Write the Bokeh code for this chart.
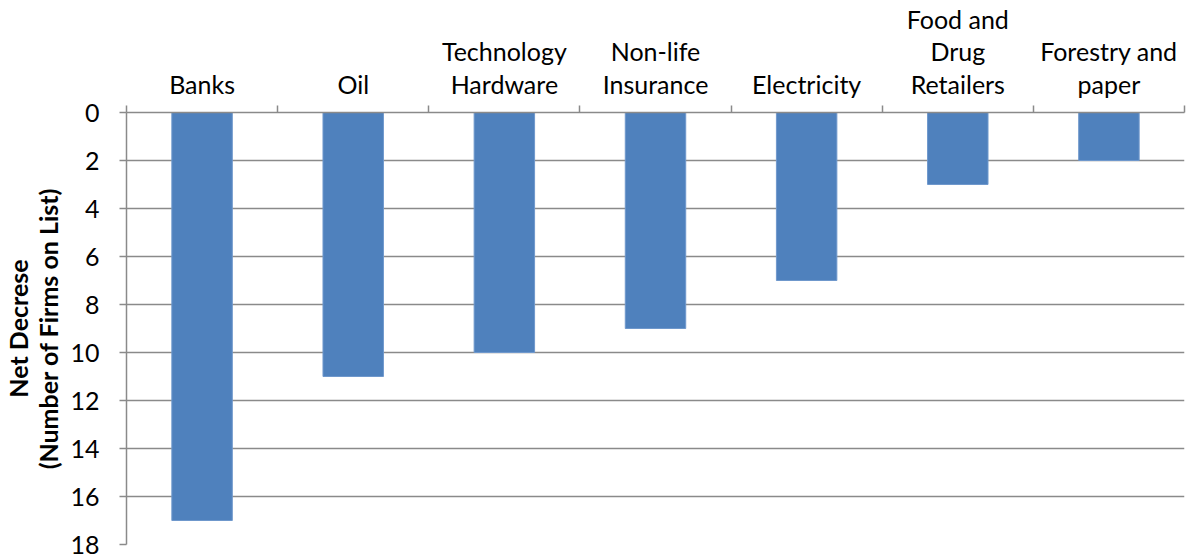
from bokeh.plotting import figure
from bokeh.models import Range1d, FixedTicker, ColumnDataSource
from bokeh.embed import file_html
from bokeh.resources import INLINE

categories = ["Banks", "Oil", "Technology\nHardware", "Non-life\nInsurance",
              "Electricity", "Food and\nDrug\nRetailers", "Forestry and\npaper"]
values = [17, 11, 10, 9, 7, 3, 2]
y_ticks = [0, 2, 4, 6, 8, 10, 12, 14, 16, 18]

FONT = "Lato"
GRID = "#8a8a8a"
BAR = "#4F81BD"

n = len(categories)
centers = [i + 0.5 for i in range(n)]
src = ColumnDataSource(dict(x=centers, v=values, z=[0] * n))

p = figure(width=1186, height=557, output_backend="svg", toolbar_location=None,
           x_range=Range1d(0, n), y_range=Range1d(y_ticks[-1], y_ticks[0]),
           x_axis_location="above", min_border_left=125, min_border_right=2,
           min_border_top=112, min_border_bottom=13)
p.outline_line_color = None
p.background_fill_color = "white"

p.vbar(x="x", width=0.4, top="z", bottom="v", source=src,
       fill_color=BAR, line_color="#6f98cc", line_width=1)

xa = p.xaxis[0]
xa.ticker = FixedTicker(ticks=centers, minor_ticks=list(range(n + 1)))
xa.major_label_overrides = {c: lab for c, lab in zip(centers, categories)}
xa.major_tick_out = 0
xa.major_tick_in = 0
xa.minor_tick_out = 7
xa.minor_tick_in = 0
xa.minor_tick_line_color = GRID
xa.minor_tick_line_width = 1.5
xa.axis_line_color = GRID
xa.axis_line_width = 1.5
xa.major_label_text_font = FONT
xa.major_label_text_font_size = "25px"
xa.major_label_text_line_height = 1.07
xa.major_label_text_color = "black"
xa.major_label_standoff = 7
xa.major_label_orientation = "horizontal"

ya = p.yaxis[0]
ya.ticker = FixedTicker(ticks=y_ticks)
ya.major_tick_out = 7
ya.major_tick_in = 0
ya.minor_tick_out = 0
ya.minor_tick_in = 0
ya.major_tick_line_color = GRID
ya.major_tick_line_width = 1.5
ya.axis_line_color = GRID
ya.axis_line_width = 1.5
ya.major_label_text_font = FONT
ya.major_label_text_font_size = "25px"
ya.major_label_text_color = "black"
ya.major_label_standoff = 20
ya.axis_label = "Net Decrese\n(Number of Firms on List)"
ya.axis_label_text_font = FONT
ya.axis_label_text_font_style = "bold"
ya.axis_label_text_font_size = "25px"
ya.axis_label_text_line_height = 1.0
ya.axis_label_text_color = "black"
ya.axis_label_standoff = 4

p.xgrid.visible = False
p.ygrid.ticker = FixedTicker(ticks=y_ticks)
p.ygrid.grid_line_color = GRID
p.ygrid.grid_line_width = 1.5

open("out.html", "w").write(file_html(p, INLINE))
